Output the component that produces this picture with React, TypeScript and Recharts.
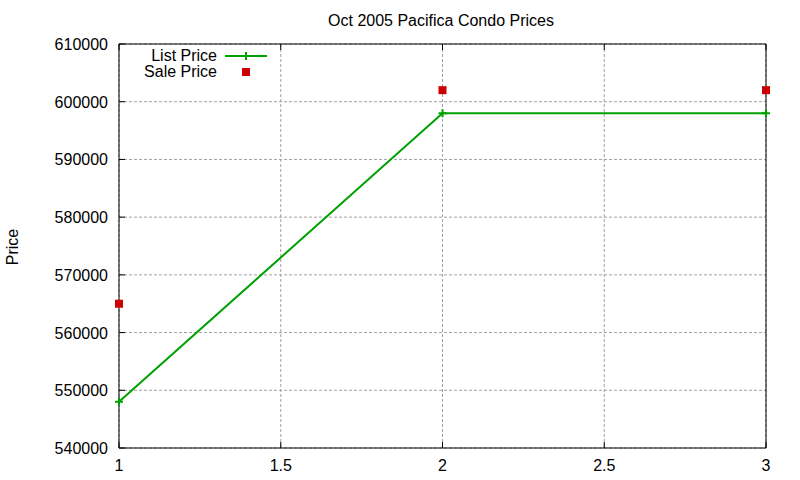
import React from "react";
import { ComposedChart, Line, XAxis, YAxis, CartesianGrid } from "recharts";

const sizes = [1, 2, 3];
const listPrice = [548000, 598000, 598000];
const salePrice = [565000, 602000, 602000];
const xTicks = [1, 1.5, 2, 2.5, 3];
const yTicks = [540000, 550000, 560000, 570000, 580000, 590000, 600000, 610000];

const data = sizes.map((x, i) => ({ x, list: listPrice[i], sale: salePrice[i] }));

const GREEN = "#00a000";
const RED = "#cc0000";
const FONT = "'Liberation Sans', Arial, sans-serif";

const PlusDot = (props: any) => {
  const { cx, cy } = props;
  if (cx == null || cy == null) return null;
  return (
    <path
      d={`M${cx - 4},${cy}H${cx + 4}M${cx},${cy - 4}V${cy + 4}`}
      stroke={GREEN}
      strokeWidth={2}
    />
  );
};

const SquareDot = (props: any) => {
  const { cx, cy } = props;
  if (cx == null || cy == null) return null;
  return <rect x={cx - 4} y={cy - 4} width={8} height={8} fill={RED} />;
};

// gnuplot style: tick marks point into the plot, labels sit outside
const BottomTick = (props: any) => {
  const { x, y, payload } = props;
  return (
    <g>
      <line x1={x} x2={x} y1={y} y2={y - 6} stroke="#000" />
      <text x={x} y={y + 23} textAnchor="middle" fontSize={16} fill="#000">
        {payload.value}
      </text>
    </g>
  );
};

const TopTick = (props: any) => {
  const { x, y } = props;
  return <line x1={x} x2={x} y1={y} y2={y + 6} stroke="#000" />;
};

const LeftTick = (props: any) => {
  const { x, y, payload } = props;
  return (
    <g>
      <line x1={x} x2={x + 6} y1={y} y2={y} stroke="#000" />
      <text x={x - 11} y={y + 6} textAnchor="end" fontSize={16} fill="#000">
        {payload.value}
      </text>
    </g>
  );
};

const RightTick = (props: any) => {
  const { x, y } = props;
  return <line x1={x} x2={x - 6} y1={y} y2={y} stroke="#000" />;
};

export default function App() {
  return (
    <div style={{ position: "absolute", left: 0, top: 0, background: "#fff" }}>
      <ComposedChart
        width={800}
        height={480}
        data={data}
        margin={{ top: 34, right: 24, bottom: 0, left: 0 }}
        style={{ fontFamily: FONT }}
      >
        <CartesianGrid
          xAxisId="bottom"
          yAxisId="left"
          stroke="#a0a0a0"
          strokeDasharray="3 2"
        />
        <XAxis
          xAxisId="bottom"
          dataKey="x"
          type="number"
          domain={[1, 3]}
          ticks={xTicks}
          height={32}
          tickSize={0}
          tickMargin={0}
          tickLine={false}
          stroke="#000"
          tick={<BottomTick />}
        />
        <XAxis
          xAxisId="top"
          orientation="top"
          dataKey="x"
          type="number"
          domain={[1, 3]}
          ticks={xTicks}
          height={10}
          tickSize={0}
          tickMargin={0}
          tickLine={false}
          stroke="#000"
          tick={<TopTick />}
        />
        <YAxis
          yAxisId="left"
          type="number"
          domain={[540000, 610000]}
          ticks={yTicks}
          width={119}
          tickSize={0}
          tickMargin={0}
          tickLine={false}
          stroke="#000"
          tick={<LeftTick />}
        />
        <YAxis
          yAxisId="right"
          orientation="right"
          type="number"
          domain={[540000, 610000]}
          ticks={yTicks}
          width={10}
          tickSize={0}
          tickMargin={0}
          tickLine={false}
          stroke="#000"
          tick={<RightTick />}
        />
        <Line
          xAxisId="bottom"
          yAxisId="left"
          dataKey="list"
          name="List Price"
          stroke={GREEN}
          strokeWidth={2}
          dot={<PlusDot />}
          activeDot={false}
          isAnimationActive={false}
        />
        <Line
          xAxisId="bottom"
          yAxisId="left"
          dataKey="sale"
          name="Sale Price"
          stroke="none"
          dot={<SquareDot />}
          activeDot={false}
          isAnimationActive={false}
        />
        <text x={441} y={26} textAnchor="middle" fontSize={16} fill="#000">
          Oct 2005 Pacifica Condo Prices
        </text>
        <text
          x={18}
          y={247}
          textAnchor="middle"
          fontSize={16}
          fill="#000"
          transform="rotate(-90 18 247)"
        >
          Price
        </text>
        <g fontSize={16} fill="#000">
          <text x={217} y={61} textAnchor="end">
            List Price
          </text>
          <line x1={225} x2={267} y1={56} y2={56} stroke={GREEN} strokeWidth={2} />
          <path d="M246,52V60M242,56H250" stroke={GREEN} strokeWidth={2} />
          <text x={217} y={77} textAnchor="end">
            Sale Price
          </text>
          <rect x={242} y={68} width={8} height={8} fill={RED} />
        </g>
      </ComposedChart>
    </div>
  );
}
